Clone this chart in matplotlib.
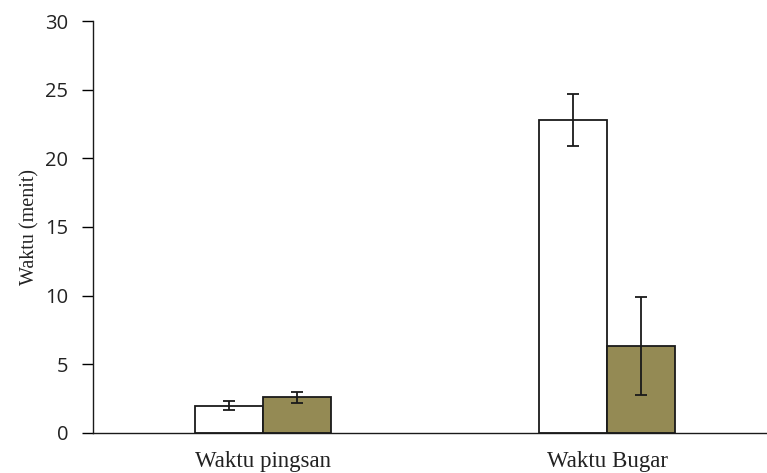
import matplotlib
matplotlib.use("Agg")
import matplotlib.pyplot as plt
import numpy as np

# data
categories = ["Waktu pingsan", "Waktu Bugar"]
series_a = [2.0, 22.8]      # white bars
series_a_err = [0.35, 1.9]
series_b = [2.6, 6.35]      # olive bars
series_b_err = [0.4, 3.55]
yticks = [0, 5, 10, 15, 20, 25, 30]

fig = plt.figure(figsize=(7.67, 4.73), dpi=100)
ax = fig.add_axes([0.1213, 0.0846, 0.8787 + 0.05, 0.871])

x = np.arange(len(categories))
w = 0.198
ax.bar(x - w / 2, series_a, w, yerr=series_a_err, color="white", edgecolor="#1a1a1a",
       linewidth=1.3, capsize=4.5, error_kw={"elinewidth": 1.3, "capthick": 1.3, "ecolor": "#1a1a1a"})
ax.bar(x + w / 2, series_b, w, yerr=series_b_err, color="#948A54", edgecolor="#1a1a1a",
       linewidth=1.3, capsize=4.5, error_kw={"elinewidth": 1.3, "capthick": 1.3, "ecolor": "#1a1a1a"})

ax.set_xlim(-0.494, 1.465 + 0.05 * 767 / 344)
ax.set_ylim(0, 30)
ax.set_yticks(yticks)
ax.set_yticklabels([str(t) for t in yticks], family="Open Sans", fontsize=14.5, color="#222222")
ax.set_xticks(x)
ax.set_xticklabels(categories, family="Liberation Serif", fontsize=16.5, color="#222222")
ax.tick_params(axis="x", length=0, pad=13)
ax.tick_params(axis="y", length=8, width=1, pad=10)

ax.spines["top"].set_visible(False)
ax.spines["right"].set_visible(False)
for s in ("left", "bottom"):
    ax.spines[s].set_linewidth(1)
    ax.spines[s].set_color("#1a1a1a")

ax.set_ylabel("Waktu (menit)", family="Liberation Serif", fontsize=14.5, color="#222222", labelpad=4)

fig.savefig("out.png", dpi=100)
